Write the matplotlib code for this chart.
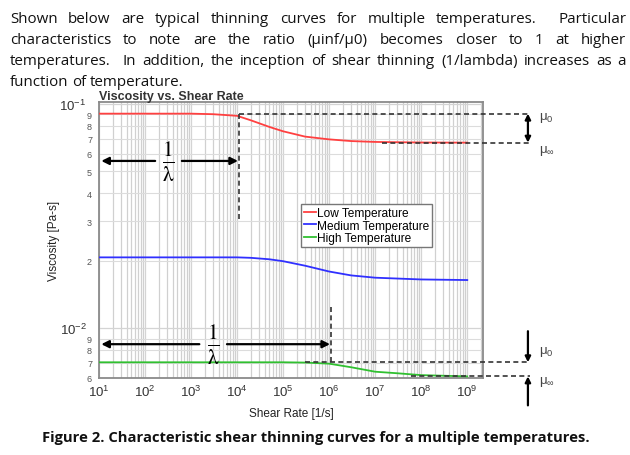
import numpy as np
import matplotlib
matplotlib.use('Agg')
import matplotlib.pyplot as plt
from matplotlib.ticker import FixedLocator, FuncFormatter

# curve readings (shear rate [1/s], viscosity [Pa-s])
rate_low = [1e1, 1e2, 1e3, 3e3, 1e4, 2e4, 5e4, 1e5, 3e5, 1e6, 3e6, 1e7, 1e8, 1e9]
visc_low = [0.0905, 0.0905, 0.0905, 0.0900, 0.0885, 0.0845, 0.0790, 0.0755,
            0.0715, 0.0695, 0.0683, 0.0677, 0.0673, 0.0672]

rate_med = [1e1, 1e3, 1e4, 2e4, 5e4, 1e5, 3e5, 1e6, 3e6, 1e7, 1e8, 1e9]
visc_med = [0.0207, 0.0207, 0.0207, 0.0206, 0.0203, 0.0199, 0.0190, 0.0179,
            0.0172, 0.0168, 0.0165, 0.0164]

rate_high = [1e1, 1e4, 1e5, 3e5, 1e6, 3e6, 1e7, 3e7, 1e8, 1e9]
visc_high = [0.00705, 0.00705, 0.00705, 0.00703, 0.00695, 0.0067, 0.0064,
             0.0063, 0.00618, 0.0061]

labels = ['Low Temperature', 'Medium Temperature', 'High Temperature']
colors = ['#ff4040', '#3030ff', '#30c030']

# where shear thinning begins (1/lambda) for low and high temperature
onset_low = 1.1e4
onset_high = 1.1e6

paragraph = [
    "Shown below are typical thinning curves for multiple temperatures.  Particular",
    "characteristics to note are the ratio (\u00b5inf/\u00b50) becomes closer to 1 at higher",
    "temperatures.  In addition, the inception of shear thinning (1/lambda) increases as a",
    "function of temperature.",
]
caption = "Figure 2. Characteristic shear thinning curves for a multiple temperatures."

W, H = 630, 456
plt.rcParams['font.family'] = ['Liberation Sans', 'DejaVu Sans']
plt.rcParams['mathtext.fontset'] = 'custom'
plt.rcParams['mathtext.rm'] = 'Liberation Sans'
plt.rcParams['mathtext.it'] = 'Liberation Sans:italic'
plt.rcParams['mathtext.bf'] = 'Liberation Sans:bold'
fig = plt.figure(figsize=(W / 100, H / 100), dpi=100)
renderer = fig.canvas.get_renderer()

PFONT = 10.9

# ---- paragraph text, justified ----
def justified(line, base_y, x0=10, x1=626, justify=True):
    tokens = line.split(' ')
    words, gaps = [], []
    g = 0
    for tok in tokens:
        if tok == '':
            g += 1
            continue
        if words:
            gaps.append(g + 1)
        words.append(tok)
        g = 0
    txts = [fig.text(0, 0, w, fontsize=PFONT, family='Open Sans', color='#111')
            for w in words]
    widths = [t.get_window_extent(renderer).width for t in txts]
    if justify:
        unit = (x1 - x0 - sum(widths)) / sum(gaps)
    else:
        unit = 3.4
    x = x0
    for i, (t, w) in enumerate(zip(txts, widths)):
        t.set_position((x / W, 1 - base_y / H))
        t.set_va('baseline')
        if i < len(gaps):
            x += w + unit * gaps[i]

for i, line in enumerate(paragraph):
    justified(line, 23 + 21 * i, justify=(i < len(paragraph) - 1))

fig.text(316 / W, 1 - 442 / H, caption, fontsize=10.6, family='Open Sans',
         fontweight='bold', ha='center', va='baseline', color='#111')

# ---- chart ----
ax = fig.add_axes([99 / W, 1 - 379 / H, 384 / W, 276 / H])
ax.set_xscale('log')
ax.set_yscale('log')
ax.set_xlim(10, 2.2e9)
ax.set_ylim(0.006, 0.102)

for r, v, c, lab in zip([rate_low, rate_med, rate_high],
                        [visc_low, visc_med, visc_high], colors, labels):
    ax.plot(r, v, color=c, lw=1.3, label=lab, zorder=3)

# grid and ticks
xmaj = [10.0 ** k for k in range(1, 10)]
xmin = [m * 10.0 ** k for k in range(1, 10) for m in range(2, 10)]
ax.xaxis.set_major_locator(FixedLocator(xmaj))
ax.xaxis.set_minor_locator(FixedLocator(xmin))
ax.xaxis.set_major_formatter(FuncFormatter(lambda v, p: r'$10^{%d}$' % round(np.log10(v))))
ax.xaxis.set_minor_formatter(FuncFormatter(lambda v, p: ''))

ymaj = [0.01, 0.1]
ymin = [0.006, 0.007, 0.008, 0.009] + [m * 0.01 for m in range(2, 10)]
ax.yaxis.set_major_locator(FixedLocator(ymaj))
ax.yaxis.set_minor_locator(FixedLocator(ymin))
ax.yaxis.set_major_formatter(FuncFormatter(lambda v, p: r'$10^{%d}$' % round(np.log10(v))))
ax.yaxis.set_minor_formatter(
    FuncFormatter(lambda v, p: '%d' % round(v / 10 ** np.floor(np.log10(v) + 1e-9))))

ax.tick_params(which='both', length=0, colors='#333')
ax.tick_params(axis='x', which='major', labelsize=9.5, pad=4)
ax.tick_params(axis='y', which='major', labelsize=9.5, pad=9)
ax.tick_params(axis='y', which='minor', labelsize=6.5, pad=5, labelcolor='#555')
ax.grid(which='major', color='#d4d4d4', lw=0.9, zorder=0)
ax.grid(which='minor', axis='y', color='#dcdcdc', lw=0.8, zorder=0)
ax.grid(which='minor', axis='x', color='#d0d0d0', lw=0.9, zorder=0)
for s in ax.spines.values():
    s.set_color('#8a8a8a')
    s.set_linewidth(1.3)

ax.set_xlabel('Shear Rate [1/s]', fontsize=8.5, color='#222')
ax.set_ylabel('Viscosity [Pa-s]', fontsize=8.5, color='#222')
ax.xaxis.set_label_coords(0.5, -0.105)
ax.yaxis.set_label_coords(-0.102, 0.5)
ax.text(0.0, 1.022, 'Viscosity vs. Shear Rate', transform=ax.transAxes,
        fontsize=9, fontweight='bold', va='center', ha='left', color='#333')

leg = ax.legend(loc='upper left', bbox_to_anchor=(0.51, 0.652), fontsize=8.6,
                handlelength=1.0, handletextpad=0.1, borderpad=0.25,
                labelspacing=0.05, fancybox=False, framealpha=1,
                edgecolor='#777')
leg.get_frame().set_linewidth(1.0)

# ---- annotations ----
lx0, lx1 = np.log10(ax.get_xlim())
def fx(f):
    return 10 ** (lx0 + f * (lx1 - lx0))

dash = dict(color='#333', lw=1.2, ls=(0, (3, 2)), clip_on=False, zorder=4)
x_end = fx(1.122)
mu0_low, muinf_low = visc_low[0], visc_low[-1]
mu0_high, muinf_high = visc_high[0], visc_high[-1]

ax.plot([onset_low, x_end], [mu0_low, mu0_low], **dash)
ax.plot([1.4e7, x_end], [muinf_low, muinf_low], **dash)
ax.plot([onset_low, onset_low], [mu0_low, 0.03], **dash)
ax.plot([3e5, x_end], [mu0_high, mu0_high], **dash)
ax.plot([6e7, x_end], [muinf_high, muinf_high], **dash)
ax.plot([onset_high, onset_high], [mu0_high, 0.0124], **dash)

arrow = dict(arrowstyle='-|>', lw=1.6, color='black', mutation_scale=11,
             shrinkA=0, shrinkB=0)
ytr = ax.get_yaxis_transform()

# 1/lambda arrows
for yv, xt, xl, xr, onset in [(0.0557, 10 ** 2.5, 10 ** 2.22, 10 ** 2.8, onset_low),
                              (0.00849, 10 ** 3.48, 10 ** 3.18, 10 ** 3.78, onset_high)]:
    ax.annotate('', xy=(fx(0.006), yv), xytext=(xl, yv), arrowprops=arrow)
    ax.annotate('', xy=(onset * 0.95, yv), xytext=(xr, yv), arrowprops=arrow)
    ax.text(xt, yv, r'$\frac{1}{\mathrm{\lambda}}$', fontsize=22, ha='center',
            va='center', math_fontfamily='stix')

# mu0 / mu_inf markers on the right
xa = 1.117
ax.annotate('', xy=(xa, muinf_low), xytext=(xa, mu0_low), xycoords=ytr,
            textcoords=ytr, annotation_clip=False,
            arrowprops=dict(arrowstyle='<|-|>', lw=1.6, color='black',
                            mutation_scale=8, shrinkA=0, shrinkB=0))
ax.annotate('', xy=(xa, mu0_high), xytext=(xa, 0.0097), xycoords=ytr,
            textcoords=ytr, annotation_clip=False,
            arrowprops=dict(arrowstyle='-|>', lw=1.6, color='black',
                            mutation_scale=8, shrinkA=0, shrinkB=0))
ax.annotate('', xy=(xa, muinf_high), xytext=(xa, 0.00453), xycoords=ytr,
            textcoords=ytr, annotation_clip=False,
            arrowprops=dict(arrowstyle='-|>', lw=1.6, color='black',
                            mutation_scale=8, shrinkA=0, shrinkB=0))

txt = dict(transform=ytr, fontsize=9.5, color='#444', ha='left', va='center',
           clip_on=False)
ax.text(1.145, 0.087, 'μ$_0$', **txt)
ax.text(1.145, 0.062, 'μ$_\\infty$', **txt)
ax.text(1.145, 0.0079, 'μ$_0$', **txt)
ax.text(1.145, 0.0058, 'μ$_\\infty$', **txt)

fig.savefig('out.png', dpi=100)
